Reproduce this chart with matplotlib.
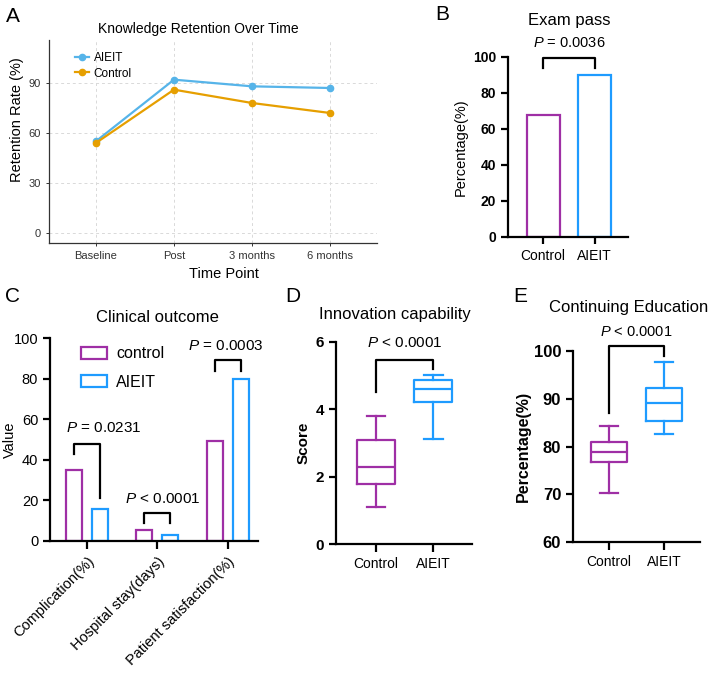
import numpy as np
import matplotlib
matplotlib.use("Agg")
import matplotlib.pyplot as plt
from matplotlib.patches import Patch

plt.rcParams["font.family"] = ["Liberation Sans", "DejaVu Sans"]
plt.rcParams["mathtext.fontset"] = "custom"
plt.rcParams["mathtext.it"] = "Liberation Sans:italic"
plt.rcParams["mathtext.rm"] = "Liberation Sans"

# ---- data ----
time_points = ["Baseline", "Post", "3 months", "6 months"]
retention_aieit = [55, 92, 88, 87]
retention_control = [54, 86, 78, 72]

exam_groups = ["Control", "AIEIT"]
exam_pass = [67.6, 90]
exam_p = "0.0036"

clin_outcomes = ["Complication(%)", "Hospital stay(days)", "Patient satisfaction(%)"]
clin_control = [35, 5.2, 49.5]
clin_aieit = [15.8, 3.0, 80]
clin_p = ["= 0.0231", "< 0.0001", "= 0.0003"]

box_groups = ["Control", "AIEIT"]
# whisker low, q1, median, q3, whisker high
innov_control = [1.1, 1.78, 2.29, 3.07, 3.8]
innov_aieit = [3.1, 4.22, 4.59, 4.87, 5.0]
edu_control = [70.4, 76.7, 78.9, 80.9, 84.4]
edu_aieit = [82.7, 85.4, 89.2, 92.3, 97.6]

PURPLE = "#9F2FA5"
BLUE = "#1E9BFF"
A_BLUE = "#56B4E9"
A_ORANGE = "#E69F00"

W, H = 708, 674
fig = plt.figure(figsize=(W / 100, H / 100), dpi=100)


def px_box(l, t, r, b):
    return [l / W, 1 - b / H, (r - l) / W, (b - t) / H]


def label(x, y, s, size=15):
    fig.text(x / W, 1 - y / H, s, fontsize=size, ha="center", va="center")


def prism_axes(ax):
    for s in ["top", "right"]:
        ax.spines[s].set_visible(False)
    for s in ["left", "bottom"]:
        ax.spines[s].set_linewidth(1.6)
    ax.tick_params(width=1.6, length=5, labelsize=10)


def bracket(ax, x1, x2, y_top, y1, y2, text, ty, size=11, tx=None):
    ax.plot([x1, x1, x2, x2], [y1, y_top, y_top, y2], color="black", lw=1.6, clip_on=False)
    if tx is None:
        tx = (x1 + x2) / 2
    ax.text(tx, ty, r"$\it{P}$ " + text, ha="center", va="center", fontsize=size, clip_on=False)


# ---- A: knowledge retention ----
axA = fig.add_axes(px_box(49, 40, 377, 243))
xA = np.arange(len(time_points))
axA.plot(xA, retention_aieit, "-o", color=A_BLUE, lw=1.6, ms=4.5, label="AIEIT", zorder=3)
axA.plot(xA, retention_control, "-o", color=A_ORANGE, lw=1.6, ms=4.5, label="Control", zorder=3)
axA.set_xlim(-0.6, 3.6)
axA.set_ylim(-6, 115.8)
axA.set_xticks(xA, time_points)
axA.set_yticks([0, 30, 60, 90])
axA.grid(True, ls=(0, (3, 3)), color="#d9d9d9", lw=0.7)
axA.set_axisbelow(True)
for s in ["top", "right"]:
    axA.spines[s].set_visible(False)
for s in ["left", "bottom"]:
    axA.spines[s].set_color("#333333")
    axA.spines[s].set_linewidth(0.9)
axA.tick_params(labelsize=8, length=2.5, width=0.7, color="#333333", labelcolor="#333333")
axA.set_xlabel("Time Point", fontsize=10.5, labelpad=4)
axA.xaxis.label.set_x((224 - 49) / 328)
axA.set_ylabel("Retention Rate (%)", fontsize=10.5, labelpad=3)
axA.yaxis.label.set_y((243 - 120) / 203)
axA.text((198 - 96) / 78, 122.4, "Knowledge Retention Over Time", fontsize=10, ha="center", va="center", clip_on=False)
axA.legend(loc="upper left", bbox_to_anchor=(0.06, 0.97), frameon=False, fontsize=8.5,
           handlelength=1.2, handletextpad=0.4, labelspacing=0.3, borderpad=0)

# ---- B: exam pass ----
axB = fig.add_axes(px_box(508, 57, 628, 237))
xB = np.arange(len(exam_groups))
axB.bar(xB, exam_pass, width=0.64, facecolor="none", edgecolor=[PURPLE, BLUE], lw=1.6)
axB.set_xlim(-0.68, 1.65)
axB.set_ylim(0, 100)
axB.set_yticks([0, 20, 40, 60, 80, 100])
axB.set_xticks(xB, exam_groups)
prism_axes(axB)
for t in axB.get_yticklabels():
    t.set_fontweight("bold")
axB.set_ylabel("Percentage(%)", fontsize=10.5)
bracket(axB, 0, 1, 99.5, 94, 94, "= " + exam_p, 107.8, size=10.5)
axB.text(0.5, 120.5, "Exam pass", fontsize=12, ha="center", va="center", clip_on=False)

# ---- C: clinical outcome ----
axC = fig.add_axes(px_box(50, 338, 258, 541))
xC = np.arange(len(clin_outcomes))
off = 0.184
axC.bar(xC - off, clin_control, width=0.227, facecolor="none", edgecolor=PURPLE, lw=1.6)
axC.bar(xC + off, clin_aieit, width=0.227, facecolor="none", edgecolor=BLUE, lw=1.6)
axC.set_xlim(-0.525, 2.43)
axC.set_ylim(0, 100)
axC.set_yticks([0, 20, 40, 60, 80, 100])
axC.set_xticks(xC, clin_outcomes, rotation=45, ha="right", rotation_mode="anchor")
prism_axes(axC)
axC.tick_params(axis="y", labelsize=10.5)
axC.tick_params(axis="x", labelsize=10.5, length=6)
axC.set_ylabel("Value", fontsize=10.5)
axC.yaxis.set_label_coords((17 - 50) / 208, 0.5)
bracket(axC, -off, off, 48, 43, 21, clin_p[0], 55.6, size=11, tx=0.24)
bracket(axC, 1 - off, 1 + off, 14, 9, 9, clin_p[1], 20.5, size=11, tx=1.08)
bracket(axC, 2 - off, 2 + off, 89, 83.5, 83.5, clin_p[2], 96, size=11, tx=1.97)
axC.text((158 - 87) / 70.5, 110.3, "Clinical outcome", fontsize=12, ha="center", va="center", clip_on=False)
handles = [Patch(facecolor="none", edgecolor=PURPLE, lw=1.6, label="control"),
           Patch(facecolor="none", edgecolor=BLUE, lw=1.6, label="AIEIT")]
axC.legend(handles=handles, loc="upper left", bbox_to_anchor=(0.08, 1.03), frameon=False,
           fontsize=11.5, handlelength=1.6, handleheight=0.8, labelspacing=0.85, handletextpad=0.6)


# ---- D & E: box plots ----
def stats(v, name):
    return dict(whislo=v[0], q1=v[1], med=v[2], q3=v[3], whishi=v[4], label=name, fliers=[])


def draw_box(ax, data, colors):
    xs = np.arange(len(data))
    for x, (v, name), c in zip(xs, data, colors):
        ax.bxp([stats(v, name)], positions=[x], widths=0.66, showfliers=False,
               boxprops=dict(color=c, lw=1.6), medianprops=dict(color=c, lw=1.6),
               whiskerprops=dict(color=c, lw=1.6), capprops=dict(color=c, lw=1.6),
               capwidths=0.33, manage_ticks=False)
    ax.set_xticks(xs, [n for _, n in data])


axD = fig.add_axes(px_box(336, 341.7, 472, 544))
draw_box(axD, [(innov_control, box_groups[0]), (innov_aieit, box_groups[1])], [PURPLE, BLUE])
axD.set_xlim(-0.70, 1.68)
axD.set_ylim(0, 6)
axD.set_yticks([0, 2, 4, 6])
prism_axes(axD)
axD.tick_params(axis="y", labelsize=11)
for t in axD.get_yticklabels():
    t.set_fontweight("bold")
axD.tick_params(axis="x", length=6)
axD.set_ylabel("Score", fontsize=11, fontweight="bold")
bracket(axD, 0, 1, 5.46, 4.52, 5.19, "< 0.0001", 5.96, size=11)
axD.text((395 - 376) / 57, 6.8, "Innovation capability", fontsize=12, ha="center", va="center", clip_on=False)

axE = fig.add_axes(px_box(573, 351, 700, 542.3))
draw_box(axE, [(edu_control, box_groups[0]), (edu_aieit, box_groups[1])], [PURPLE, BLUE])
axE.set_xlim(-0.66, 1.66)
axE.set_ylim(60, 100)
axE.set_yticks([60, 70, 80, 90, 100])
prism_axes(axE)
axE.tick_params(axis="y", labelsize=12)
for t in axE.get_yticklabels():
    t.set_fontweight("bold")
axE.tick_params(axis="x", length=6)
axE.set_ylabel("Percentage(%)", fontsize=11.5, fontweight="bold", labelpad=2)
bracket(axE, 0, 1, 101.1, 87, 99, "< 0.0001", 103.9, size=10.5)
axE.text((629 - 609.3) / 54.7, 109, "Continuing Education", fontsize=12, ha="center", va="center", clip_on=False)

# panel letters
label(13, 17, "A")
label(442, 15, "B")
label(13, 297, "C")
label(293, 297, "D")
label(520, 297, "E")

fig.savefig("out.png", dpi=100)
